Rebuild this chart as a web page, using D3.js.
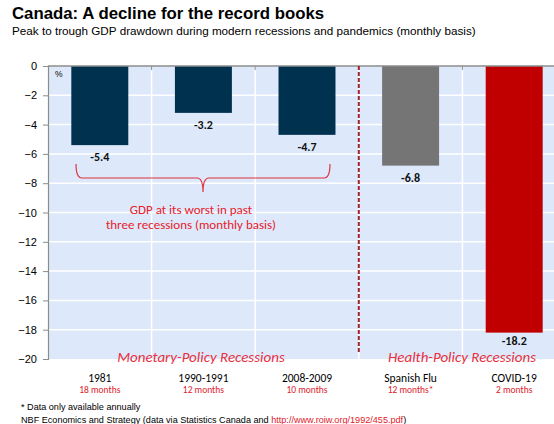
<!DOCTYPE html>
<html>
<head>
<meta charset="utf-8">
<script src="https://cdn.jsdelivr.net/npm/d3@7"></script>
<style>
  body { margin: 0; background: #fff; }
  svg { display: block; }
</style>
</head>
<body>
<div id="chart"></div>
<script>
// Canada GDP drawdown chart

const categories = ['1981', '1990-1991', '2008-2009', 'Spanish Flu', 'COVID-19'];
const durations = ['18 months', '12 months', '10 months', '12 months*', '2 months'];
const drawdowns = [-5.4, -3.2, -4.7, -6.8, -18.2];
const barColors = ['#00324f', '#00324f', '#00324f', '#757575', '#c00000'];
const yTicks = [0, -2, -4, -6, -8, -10, -12, -14, -16, -18, -20];

const W = 554, H = 424;
const plot = { left: 48, right: 566, top: 66, bottom: 359 };
const calibri = 'Carlito, Calibri, Lato, sans-serif';
const arial = '"Liberation Sans", Arial, sans-serif';

const svg = d3.select('#chart').append('svg')
    .attr('width', W)
    .attr('height', H);

// titles
svg.append('text')
    .attr('x', 12).attr('y', 19)
    .attr('font-family', arial).attr('font-weight', 'bold').attr('font-size', 16.8)
    .attr('fill', '#000')
    .text('Canada: A decline for the record books');
svg.append('text')
    .attr('x', 12).attr('y', 35)
    .attr('font-family', arial).attr('font-size', 11.7)
    .attr('fill', '#000')
    .text('Peak to trough GDP drawdown during modern recessions and pandemics (monthly basis)');

const x = d3.scaleBand().domain(categories).range([plot.left, plot.right]).paddingInner(0).paddingOuter(0);
const barPad = 0.225;
const y = d3.scaleLinear().domain([-20, 0]).range([plot.bottom, plot.top]);

// plot background
svg.append('rect')
    .attr('x', plot.left).attr('y', plot.top)
    .attr('width', plot.right - plot.left).attr('height', plot.bottom - plot.top)
    .attr('fill', '#dde9fa');

// horizontal white gridlines
svg.selectAll('.hgrid')
    .data(yTicks.filter(d => d !== 0 && d !== -20))
    .enter().append('line')
    .attr('x1', plot.left).attr('x2', plot.right)
    .attr('y1', d => y(d)).attr('y2', d => y(d))
    .attr('stroke', '#fff').attr('stroke-width', 1.5);

// vertical white gridlines between categories
svg.selectAll('.vgrid')
    .data(categories.slice(1))
    .enter().append('line')
    .attr('x1', d => x(d)).attr('x2', d => x(d))
    .attr('y1', plot.top).attr('y2', plot.bottom)
    .attr('stroke', '#fff').attr('stroke-width', 1.5);

// bars
svg.selectAll('.bar')
    .data(drawdowns)
    .enter().append('rect')
    .attr('x', (d, i) => x(categories[i]) + x.bandwidth() * barPad)
    .attr('y', y(0))
    .attr('width', x.bandwidth() * (1 - 2 * barPad))
    .attr('height', d => y(d) - y(0))
    .attr('fill', (d, i) => barColors[i]);

// value labels (the deepest one sits a touch tighter so it clears the heading)
svg.selectAll('.val')
    .data(drawdowns)
    .enter().append('text')
    .attr('x', (d, i) => x(categories[i]) + x.bandwidth() / 2)
    .attr('y', d => y(d) + (d < -15 ? 12 : 16))
    .attr('text-anchor', 'middle')
    .attr('font-family', calibri).attr('font-weight', 'bold').attr('font-size', 12)
    .attr('fill', '#111')
    .text(d => d.toFixed(1));

// y axis
const yAxis = svg.append('g')
    .attr('transform', `translate(${plot.left},0)`)
    .call(d3.axisLeft(y).tickValues(yTicks).tickSize(5).tickPadding(6).tickFormat(d3.format('d')));
yAxis.select('.domain').attr('stroke', '#8c8c8c').attr('stroke-width', 1.2);
yAxis.selectAll('.tick line').attr('stroke', '#8c8c8c');
yAxis.selectAll('.tick text')
    .attr('font-family', arial).attr('font-size', 11).attr('fill', '#000');

// zero line along the top
svg.append('line')
    .attr('x1', plot.left).attr('x2', plot.right)
    .attr('y1', y(0)).attr('y2', y(0))
    .attr('stroke', '#8c8c8c').attr('stroke-width', 1.5);
svg.selectAll('.ztick')
    .data(categories.slice(1))
    .enter().append('line')
    .attr('x1', d => x(d)).attr('x2', d => x(d))
    .attr('y1', y(0)).attr('y2', y(0) + 4)
    .attr('stroke', '#8c8c8c');

svg.append('text')
    .attr('x', 55).attr('y', 77)
    .attr('font-family', arial).attr('font-size', 8.5)
    .attr('fill', '#000')
    .text('%');

// dashed separator between recession types
const sepX = x('Spanish Flu');
svg.append('line')
    .attr('x1', sepX).attr('x2', sepX)
    .attr('y1', plot.top).attr('y2', 354)
    .attr('stroke', '#a3232e').attr('stroke-width', 2)
    .attr('stroke-dasharray', '4,2');

// brace under the three recessions
const bl = 76, br = 330, bt = 164, bh = 178, bc = 203, btip = 192;
const brace = d3.path();
brace.moveTo(bl, bt);
brace.quadraticCurveTo(bl, bh, bl + 6, bh);
brace.lineTo(bc - 6, bh);
brace.quadraticCurveTo(bc, bh, bc, btip);
brace.quadraticCurveTo(bc, bh, bc + 6, bh);
brace.lineTo(br - 6, bh);
brace.quadraticCurveTo(br, bh, br, bt);
svg.append('path')
    .attr('d', brace.toString())
    .attr('fill', 'none')
    .attr('stroke', '#e0313c').attr('stroke-width', 1.2);

const noteLines = ['GDP at its worst in past', 'three recessions (monthly basis)'];
svg.selectAll('.note')
    .data(noteLines)
    .enter().append('text')
    .attr('x', 191)
    .attr('y', (d, i) => 214 + i * 15)
    .attr('text-anchor', 'middle')
    .attr('font-family', calibri).attr('font-size', 13).attr('font-weight', 500)
    .attr('fill', '#e8202a')
    .text(d => d);

// group headings
svg.append('text')
    .attr('x', 201).attr('y', 361.5)
    .attr('text-anchor', 'middle')
    .attr('font-family', calibri).attr('font-style', 'italic').attr('font-size', 15)
    .attr('fill', '#e8303f')
    .text('Monetary-Policy Recessions');
svg.append('text')
    .attr('x', 462).attr('y', 361.5)
    .attr('text-anchor', 'middle')
    .attr('font-family', calibri).attr('font-style', 'italic').attr('font-size', 15)
    .attr('fill', '#e8303f')
    .text('Health-Policy Recessions');

// category labels
svg.selectAll('.cat')
    .data(categories)
    .enter().append('text')
    .attr('x', d => x(d) + x.bandwidth() / 2)
    .attr('y', 382)
    .attr('text-anchor', 'middle')
    .attr('font-family', calibri).attr('font-size', 11.5)
    .attr('fill', '#000')
    .text(d => d);
svg.selectAll('.dur')
    .data(durations)
    .enter().append('text')
    .attr('x', (d, i) => x(categories[i]) + x.bandwidth() / 2)
    .attr('y', 393)
    .attr('text-anchor', 'middle')
    .attr('font-family', calibri).attr('font-size', 9.5)
    .attr('fill', '#e0202a')
    .text(d => d);

// footnotes
svg.append('text')
    .attr('x', 21).attr('y', 410)
    .attr('font-family', arial).attr('font-size', 9.1)
    .attr('fill', '#000')
    .text('* Data only available annually');
const src = svg.append('text')
    .attr('x', 21).attr('y', 423)
    .attr('font-family', arial).attr('font-size', 9.1)
    .attr('fill', '#000');
src.append('tspan').text('NBF Economics and Strategy (data via Statistics Canada and ');
src.append('tspan').attr('fill', '#e0202a').attr('text-decoration', 'underline').text('http://www.roiw.org/1992/455.pdf');
src.append('tspan').text(')');
</script>
</body>
</html>
